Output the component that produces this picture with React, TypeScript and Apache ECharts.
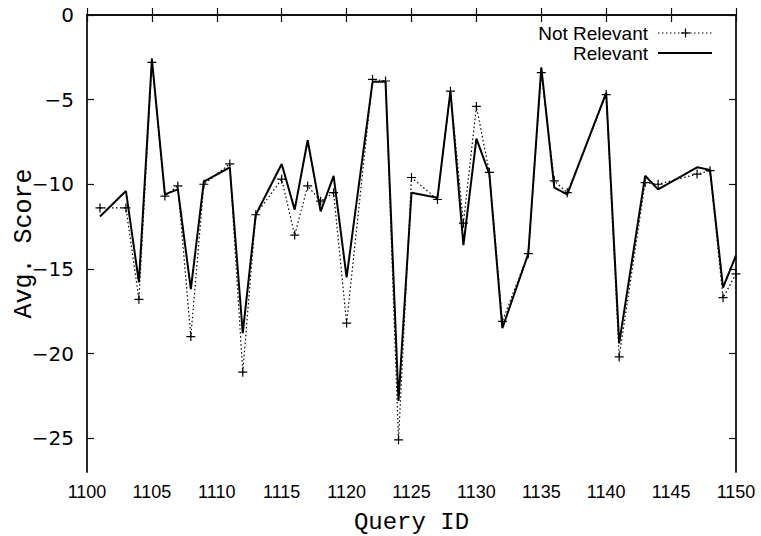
import React, { useEffect, useRef } from "react";
import * as echarts from "echarts";

const queryIds = [1101, 1103, 1104, 1105, 1106, 1107, 1108, 1109, 1111, 1112, 1113, 1115, 1116, 1117, 1118, 1119, 1120, 1122, 1123, 1124, 1125, 1127, 1128, 1129, 1130, 1131, 1132, 1134, 1135, 1136, 1137, 1140, 1141, 1143, 1144, 1147, 1148, 1149, 1150];
const notRelevant = [-11.4, -11.4, -16.8, -2.8, -10.7, -10.1, -19.0, -10.0, -8.8, -21.1, -11.8, -9.7, -13.0, -10.1, -11.0, -10.5, -18.2, -3.8, -3.9, -25.1, -9.6, -10.9, -4.5, -12.3, -5.4, -9.3, -18.1, -14.1, -3.4, -9.8, -10.5, -4.7, -20.2, -9.9, -10.0, -9.4, -9.2, -16.7, -15.3];
const relevant = [-11.9, -10.4, -15.8, -2.6, -10.6, -10.3, -16.2, -9.85, -9.0, -18.8, -11.8, -8.8, -11.5, -7.4, -11.6, -9.5, -15.5, -3.95, -3.95, -22.8, -10.5, -10.8, -4.5, -13.6, -7.3, -9.4, -18.5, -14.1, -3.1, -10.2, -10.6, -4.6, -19.4, -9.5, -10.3, -9.0, -9.15, -16.1, -14.2];
const yTicks = [0, -5, -10, -15, -20, -25];
const seriesNames = ["Not Relevant", "Relevant"];

const AXIS_COLOR = "#111";
const PLUS = "path://M0,5L10,5M5,0L5,10";

export default function App() {
  const ref = useRef<HTMLDivElement>(null);
  useEffect(() => {
    if (!ref.current) return;
    const chart = echarts.init(ref.current, null, { renderer: "svg" });
    const axisLine = { show: true, lineStyle: { color: AXIS_COLOR, width: 1.8 } };
    const tick = { show: true, inside: true, length: 7, lineStyle: { color: AXIS_COLOR, width: 1.2 } };
    const option: any = {
      animation: false,
      backgroundColor: "#fff",
      grid: { left: 87, right: 25, top: 15, bottom: 64, containLabel: false, outerBoundsMode: "none" },
      xAxis: [
        {
          type: "value",
          min: 1100,
          max: 1150,
          interval: 5,
          position: "bottom",
          axisLine,
          axisTick: tick,
          splitLine: { show: false },
          axisLabel: { color: "#000", fontFamily: "Liberation Sans", fontSize: 18, margin: 11, formatter: (v: number) => String(v) },
          name: "Query ID",
          nameLocation: "middle",
          nameGap: 38,
          nameMoveOverlap: false,
          nameTextStyle: { color: "#000", fontFamily: "Liberation Mono", fontSize: 24, lineHeight: 24 },
        },
        {
          type: "value",
          min: 1100,
          max: 1150,
          interval: 5,
          position: "top",
          axisLine,
          axisTick: tick,
          splitLine: { show: false },
          axisLabel: { show: false },
        },
      ],
      yAxis: [
        {
          type: "value",
          min: -27,
          max: 0,
          position: "left",
          axisLine,
          axisTick: { ...tick, customValues: yTicks },
          splitLine: { show: false },
          axisLabel: {
            customValues: yTicks,
            color: "#000",
            fontFamily: "DejaVu Sans",
            fontSize: 20,
            margin: 13,
            formatter: (v: number) => String(v).replace("-", "\u2212"),
          },
          name: "Avg. Score",
          nameLocation: "middle",
          nameGap: 50,
          nameMoveOverlap: false,
          nameTextStyle: { color: "#000", fontFamily: "Liberation Mono", fontSize: 25 },
        },
        {
          type: "value",
          min: -27,
          max: 0,
          position: "right",
          axisLine,
          axisTick: { ...tick, customValues: yTicks },
          splitLine: { show: false },
          axisLabel: { show: false },
        },
      ],
      series: [
        {
          name: seriesNames[0],
          type: "line",
          data: queryIds.map((id, i) => [id, notRelevant[i]]),
          symbol: PLUS,
          symbolSize: 9,
          showSymbol: true,
          itemStyle: { color: "#000", borderColor: "#000", borderWidth: 1.2 },
          lineStyle: { color: "#000", width: 1.2, type: [1.5, 2.5] },
          z: 2,
        },
        {
          name: seriesNames[1],
          type: "line",
          data: queryIds.map((id, i) => [id, relevant[i]]),
          symbol: "none",
          lineStyle: { color: "#000", width: 2 },
          z: 3,
        },
      ],
      graphic: [
        {
          type: "text",
          x: 648,
          y: 33,
          style: { text: seriesNames[0], align: "right", verticalAlign: "middle", fill: "#000", font: "19px 'Liberation Sans'" },
        },
        {
          type: "line",
          shape: { x1: 658, y1: 33, x2: 712, y2: 33 },
          style: { stroke: "#000", lineWidth: 1.2, lineDash: [1.5, 2.5] },
        },
        { type: "line", shape: { x1: 681, y1: 33, x2: 690, y2: 33 }, style: { stroke: "#000", lineWidth: 1.2 } },
        { type: "line", shape: { x1: 685.5, y1: 28.5, x2: 685.5, y2: 37.5 }, style: { stroke: "#000", lineWidth: 1.2 } },
        {
          type: "text",
          x: 648,
          y: 53,
          style: { text: seriesNames[1], align: "right", verticalAlign: "middle", fill: "#000", font: "19px 'Liberation Sans'" },
        },
        {
          type: "line",
          shape: { x1: 658, y1: 53, x2: 712, y2: 53 },
          style: { stroke: "#000", lineWidth: 2 },
        },
      ],
    };
    chart.setOption(option);
    return () => chart.dispose();
  }, []);
  return <div ref={ref} style={{ position: "fixed", left: 0, top: 0, width: 761, height: 536, background: "#fff" }} />;
}
